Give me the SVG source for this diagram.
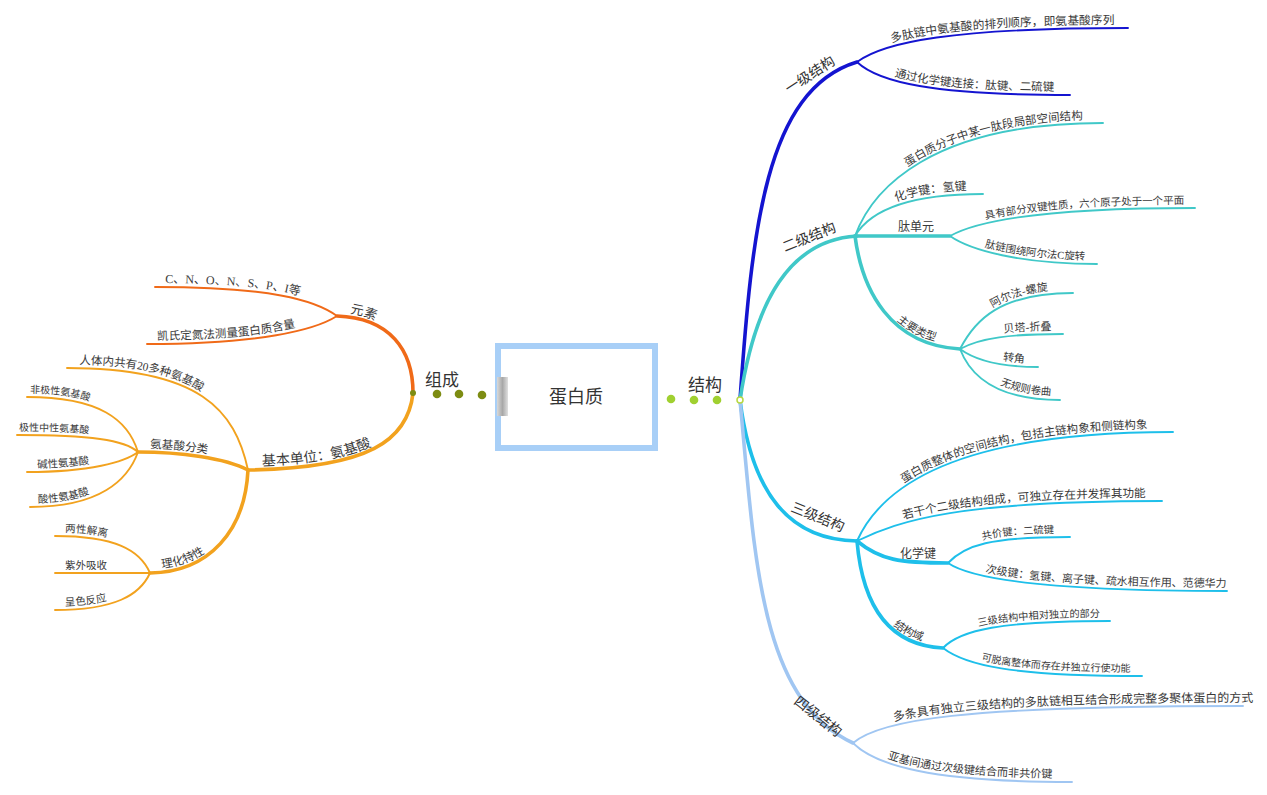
<svg xmlns="http://www.w3.org/2000/svg" xmlns:xlink="http://www.w3.org/1999/xlink" width="1267" height="795" viewBox="0 0 1267 795">
<style>
.c{fill:none;stroke-linecap:round}
.m{stroke-width:3.6}
.s{stroke-width:1.9}
.b1{stroke:#1414d0}.b2{stroke:#40c8c8}.b3{stroke:#1ebfea}.b4{stroke:#a0c6f2}
.o1{stroke:#f06a18}.o2{stroke:#f2a21e}
.t{font-family:"Liberation Serif","Noto Sans CJK SC",serif;fill:#3a3a3a}
.h{font-family:"Noto Sans CJK SC","Liberation Sans",sans-serif;fill:#333}
</style>
<defs>
<linearGradient id="tab" x1="0" y1="0" x2="1" y2="0"><stop offset="0" stop-color="#d8d8d8"/><stop offset="0.5" stop-color="#a8a8a8"/><stop offset="1" stop-color="#e0e0e0"/></linearGradient>
<path id="p1a" d="M857,58 C884,38 952,24 1140,24"/>
<path id="p1b" d="M857,58 C878,78 932,91 1070,91"/>
<path id="p2a" d="M855,232 C872,186 930,119 1110,119"/>
<path id="p2b" d="M855,232 C868,210 900,190 983,190"/>
<path id="p2c1" d="M950,232 C975,218 1040,204 1200,204"/>
<path id="p2c2" d="M950,232 C970,246 1020,260 1100,260"/>
<path id="p2d" d="M855,232 C862,286 890,341 960,345"/>
<path id="p2d1" d="M960,345 C975,316 1000,289 1080,289"/>
<path id="p2d2" d="M960,345 C980,334 1010,330 1070,330"/>
<path id="p2d3" d="M960,345 C975,356 1000,363 1040,363"/>
<path id="p2d4" d="M960,345 C970,371 995,396 1070,396"/>
<path id="p3a" d="M857,537 C880,486 950,428 1180,428"/>
<path id="p3b" d="M857,537 C900,516 960,497 1170,497"/>
<path id="p3c1" d="M948,559 C965,541 990,533 1075,533"/>
<path id="p3c2" d="M948,559 C970,574 1040,587 1235,587"/>
<path id="p3d" d="M857,537 C862,596 885,641 943,644"/>
<path id="p3d1" d="M943,644 C960,626 1000,617 1115,617"/>
<path id="p3d2" d="M943,644 C965,661 1010,672 1150,672"/>
<path id="p4a" d="M853,739 C880,716 960,702 1262,702"/>
<path id="p4b" d="M853,739 C875,761 930,778 1080,778"/>
<path id="pe1" d="M155,283 C270,283 315,296 337,312"/>
<path id="pe2" d="M147,340 C260,340 315,326 337,312"/>
<path id="pE" d="M337,312 C390,314 413,346 413,393"/>
<path id="pB" d="M248,466 C370,464 408,436 413,393"/>
<path id="pb1" d="M67,364 C200,364 235,406 248,466"/>
<path id="pb2" d="M138,448 C180,448 225,454 248,466"/>
<path id="pa1" d="M27,393 C100,393 128,416 138,448"/>
<path id="pa2" d="M17,431 C90,431 125,436 138,448"/>
<path id="pa3" d="M27,468 C90,468 125,458 138,448"/>
<path id="pa4" d="M30,503 C100,503 128,476 138,448"/>
<path id="pb3" d="M150,569 C210,568 245,526 248,470"/>
<path id="pl1" d="M55,532 C115,532 140,546 150,569"/>
<path id="pl2" d="M55,569 L150,569"/>
<path id="pl3" d="M55,606 C115,606 140,591 150,569"/>
</defs>
<rect width="1267" height="795" fill="#fff"/>

<g id="connectors">
  <!-- right main -->
  <path class="c m b1" d="M740,400 C752,230 765,90 857,62"/>
  <path class="c m b2" d="M740,400 C755,300 790,240 857,236"/>
  <path class="c m b3" d="M740,400 C752,495 790,540 857,541"/>
  <path class="c m b4" d="M740,400 C755,560 760,700 853,743"/>
  <!-- 一级 -->
  <path class="c s b1" d="M857,62 C884,42 952,28 1128,28"/>
  <path class="c s b1" d="M857,62 C878,82 932,95 1070,95"/>
  <!-- 二级 -->
  <path class="c s b2" d="M855,236 C872,190 930,123 1103,123"/>
  <path class="c s b2" d="M855,236 C868,214 900,194 983,194"/>
  <path class="c m b2" d="M855,236 L950,236"/>
  <path class="c s b2" d="M950,236 C975,222 1040,208 1195,208"/>
  <path class="c s b2" d="M950,236 C970,250 1020,264 1097,264"/>
  <path class="c m b2" d="M855,236 C862,290 890,345 960,349"/>
  <path class="c s b2" d="M960,349 C975,320 1000,293 1073,293"/>
  <path class="c s b2" d="M960,349 C980,338 1010,334 1063,334"/>
  <path class="c s b2" d="M960,349 C975,360 1000,367 1038,367"/>
  <path class="c s b2" d="M960,349 C970,375 995,400 1060,400"/>
  <!-- 三级 -->
  <path class="c s b3" d="M857,541 C880,490 950,432 1173,432"/>
  <path class="c s b3" d="M857,541 C900,520 960,501 1162,501"/>
  <path class="c m b3" d="M857,541 C880,560 900,563 948,563"/>
  <path class="c s b3" d="M948,563 C965,545 990,537 1070,537"/>
  <path class="c s b3" d="M948,563 C970,578 1040,591 1227,591"/>
  <path class="c m b3" d="M857,541 C862,600 885,645 943,648"/>
  <path class="c s b3" d="M943,648 C960,630 1000,621 1110,621"/>
  <path class="c s b3" d="M943,648 C965,665 1010,676 1142,676"/>
  <!-- 四级 -->
  <path class="c s b4" d="M853,743 C880,720 960,706 1243,706"/>
  <path class="c s b4" d="M853,743 C875,765 930,782 1072,782"/>
  <!-- left main -->
  <path class="c m o1" d="M413,393 C413,350 390,318 337,316"/>
  <path class="c m o2" d="M413,393 C408,440 370,468 248,470"/>
  <!-- 元素 -->
  <path class="c s o1" d="M337,316 C315,300 270,287 155,287"/>
  <path class="c s o1" d="M337,316 C315,330 260,344 147,344"/>
  <!-- 基本单位 -->
  <path class="c s o2" d="M248,470 C235,410 200,368 67,368"/>
  <path class="c m o2" d="M248,470 C225,458 180,452 138,452"/>
  <path class="c s o2" d="M138,452 C128,420 100,397 27,397"/>
  <path class="c s o2" d="M138,452 C125,440 90,435 17,435"/>
  <path class="c s o2" d="M138,452 C125,462 90,472 27,472"/>
  <path class="c s o2" d="M138,452 C128,480 100,507 30,507"/>
  <path class="c m o2" d="M248,470 C245,530 210,572 150,573"/>
  <path class="c s o2" d="M150,573 C140,550 115,536 55,536"/>
  <path class="c s o2" d="M150,573 L55,573"/>
  <path class="c s o2" d="M150,573 C140,595 115,610 55,610"/>
  <!-- dotted links -->
  <g fill="#7d8c12"><circle cx="437" cy="394" r="4.3"/><circle cx="459" cy="394" r="4.3"/><circle cx="482" cy="395" r="4.3"/><circle cx="413" cy="393" r="3"/></g>
  <g fill="#a0d030"><circle cx="671" cy="399" r="4.3"/><circle cx="694" cy="400" r="4.3"/><circle cx="717" cy="400" r="4.3"/></g>
  <circle cx="740" cy="400" r="3" fill="#fff" stroke="#b8d840" stroke-width="1.5"/>
</g>

<g id="root">
  <rect x="495" y="343" width="163" height="108" fill="#a8cff7"/>
  <rect x="501" y="349" width="151" height="96" fill="#fff"/>
  <rect x="497" y="377" width="11" height="39" fill="url(#tab)"/>
  <text class="h" x="576" y="403" font-size="18" text-anchor="middle">蛋白质</text>
</g>

<g id="n-zucheng"><text class="h" x="425" y="386" font-size="17">组成</text></g>
<g id="n-jiegou"><text class="h" x="688" y="391" font-size="17">结构</text></g>

<g id="n-yuansu"><text class="t" font-size="13"><textPath href="#pE" startOffset="13">元素</textPath></text></g>
<g id="n-e1"><text class="t" font-size="12"><textPath href="#pe1" startOffset="10">C、N、O、N、S、P、I等</textPath></text></g>
<g id="n-e2"><text class="t" font-size="11.6"><textPath href="#pe2" startOffset="10">凯氏定氮法测量蛋白质含量</textPath></text></g>

<g id="n-jiben"><text class="t" font-size="14"><textPath href="#pB" startOffset="14">基本单位：氨基酸</textPath></text></g>
<g id="n-b1"><text class="t" font-size="11.5"><textPath href="#pb1" startOffset="12">人体内共有20多种氨基酸</textPath></text></g>
<g id="n-fenlei"><text class="t" font-size="11.5"><textPath href="#pb2" startOffset="12">氨基酸分类</textPath></text></g>
<g id="n-a1"><text class="t" font-size="10"><textPath href="#pa1" startOffset="3">非极性氨基酸</textPath></text></g>
<g id="n-a2"><text class="t" font-size="10"><textPath href="#pa2" startOffset="2">极性中性氨基酸</textPath></text></g>
<g id="n-a3"><text class="t" font-size="10.5"><textPath href="#pa3" startOffset="10">碱性氨基酸</textPath></text></g>
<g id="n-a4"><text class="t" font-size="10.5"><textPath href="#pa4" startOffset="8">酸性氨基酸</textPath></text></g>
<g id="n-lihua"><text class="t" font-size="11.5"><textPath href="#pb3" startOffset="12">理化特性</textPath></text></g>
<g id="n-l1"><text class="t" font-size="10.5"><textPath href="#pl1" startOffset="10">两性解离</textPath></text></g>
<g id="n-l2"><text class="t" font-size="10.5"><textPath href="#pl2" startOffset="10">紫外吸收</textPath></text></g>
<g id="n-l3"><text class="t" font-size="10.5"><textPath href="#pl3" startOffset="10">呈色反应</textPath></text></g>

<g id="n-yiji"><text class="h" font-size="14" transform="translate(789,94) rotate(-33)">一级结构</text></g>
<g id="n-1a"><text class="t" font-size="11.8"><textPath href="#p1a" startOffset="38">多肽链中氨基酸的排列顺序，即氨基酸序列</textPath></text></g>
<g id="n-1b"><text class="t" font-size="11.5"><textPath href="#p1b" startOffset="42">通过化学键连接：肽键、二硫键</textPath></text></g>

<g id="n-erji"><text class="h" font-size="14" transform="translate(785,252) rotate(-22)">二级结构</text></g>
<g id="n-2a"><text class="t" font-size="11.5"><textPath href="#p2a" startOffset="85">蛋白质分子中某一肽段局部空间结构</textPath></text></g>
<g id="n-2b"><text class="t" font-size="12"><textPath href="#p2b" startOffset="52">化学键：氢键</textPath></text></g>
<g id="n-taidanyuan"><text class="t" x="898" y="231" font-size="12">肽单元</text></g>
<g id="n-2c1"><text class="t" font-size="10.5"><textPath href="#p2c1" startOffset="38">具有部分双键性质，六个原子处于一个平面</textPath></text></g>
<g id="n-2c2"><text class="t" font-size="10.5"><textPath href="#p2c2" startOffset="38">肽链围绕阿尔法C旋转</textPath></text></g>
<g id="n-zhuyao"><text class="t" font-size="11"><textPath href="#p2d" startOffset="100">主要类型</textPath></text></g>
<g id="n-2d1"><text class="t" font-size="11"><textPath href="#p2d1" startOffset="50">阿尔法-螺旋</textPath></text></g>
<g id="n-2d2"><text class="t" font-size="11"><textPath href="#p2d2" startOffset="46">贝塔-折叠</textPath></text></g>
<g id="n-2d3"><text class="t" font-size="11"><textPath href="#p2d3" startOffset="46">转角</textPath></text></g>
<g id="n-2d4"><text class="t" font-size="10.5"><textPath href="#p2d4" startOffset="58">无规则卷曲</textPath></text></g>

<g id="n-sanji"><text class="h" font-size="14" transform="translate(790,511) rotate(22)">三级结构</text></g>
<g id="n-3a"><text class="t" font-size="11.5"><textPath href="#p3a" startOffset="72">蛋白质整体的空间结构，包括主链构象和侧链构象</textPath></text></g>
<g id="n-3b"><text class="t" font-size="11.6"><textPath href="#p3b" startOffset="50">若干个二级结构组成，可独立存在并发挥其功能</textPath></text></g>
<g id="n-huaxuejian"><text class="t" x="900" y="558" font-size="12">化学键</text></g>
<g id="n-3c1"><text class="t" font-size="10.3"><textPath href="#p3c1" startOffset="40">共价键：二硫键</textPath></text></g>
<g id="n-3c2"><text class="t" font-size="11"><textPath href="#p3c2" startOffset="40">次级键：氢键、离子键、疏水相互作用、范德华力</textPath></text></g>
<g id="n-jiegouyu"><text class="t" font-size="11"><textPath href="#p3d" startOffset="98">结构域</textPath></text></g>
<g id="n-3d1"><text class="t" font-size="10.2"><textPath href="#p3d1" startOffset="40">三级结构中相对独立的部分</textPath></text></g>
<g id="n-3d2"><text class="t" font-size="10"><textPath href="#p3d2" startOffset="42">可脱离整体而存在并独立行使功能</textPath></text></g>

<g id="n-siji"><text class="h" font-size="14" transform="translate(793,703) rotate(38)">四级结构</text></g>
<g id="n-4a"><text class="t" font-size="12"><textPath href="#p4a" startOffset="45">多条具有独立三级结构的多肽链相互结合形成完整多聚体蛋白的方式</textPath></text></g>
<g id="n-4b"><text class="t" font-size="11.1"><textPath href="#p4b" startOffset="40">亚基间通过次级键结合而非共价键</textPath></text></g>
</svg>
